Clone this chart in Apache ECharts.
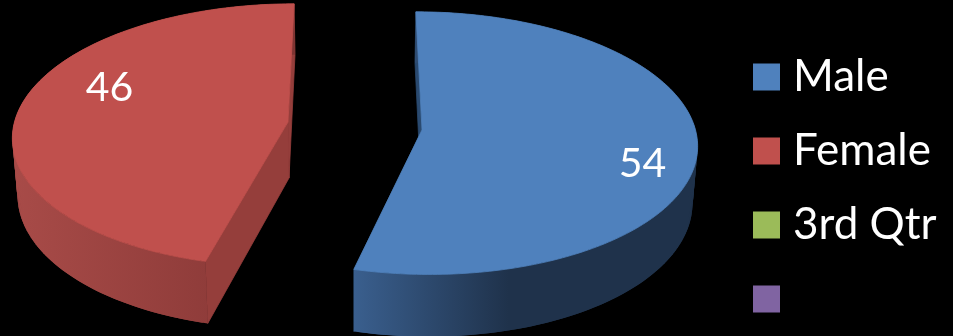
<!DOCTYPE html>
<html>
<head>
<meta charset="utf-8">
<style>html,body{margin:0;padding:0;background:#000}#chart{width:953px;height:336px}</style>
<script src="https://cdn.jsdelivr.net/npm/echarts@6/dist/echarts.min.js"></script>
</head>
<body>
<div id="chart"></div>
<script>
// Share of respondents by gender
const categories = ['Male', 'Female', '3rd Qtr', ' '];
const values = [54, 46, null, null];
const colors = ['#4f81bd', '#c0504d', '#9bbb59', '#8064a2'];

// Tilted-disc projection settings
const view = { cx: 355, radius: 273.5, tilt: 130, depth: 56, perspective: 0.1, floorScale: 0.985 };
// Per-slice look: exploded offset, wall shading, and where the value label sits
const sliceLooks = [
  { offset: 67, apexY: 130, cut: '#2a4a70', wall: [[0, '#3a5f8e'], [0.45, '#1f324b'], [1, '#1f324b']], labelAngle: 108, labelRadius: 0.82 },
  { offset: -67, apexY: 122, cut: '#953e3b', wall: [[0, '#a84b48'], [0.85, '#8a3937'], [1, '#7d3432']], labelAngle: 292, labelRadius: 0.73 }
];

const total = values.reduce((a, b) => a + (b || 0), 0);
const toRad = Math.PI / 180;

// Angles run clockwise from the back of the disc; v grows toward the viewer.
function project(look, deg, r, lower) {
  const u = r * Math.sin(deg * toRad);
  const v = -r * Math.cos(deg * toRad);
  const s = 1 / (1 - view.perspective * v);
  const wx = look.offset + view.radius * u;
  return [
    view.cx + wx * s * (lower ? view.floorScale : 1),
    look.apexY + view.tilt * v * s + (lower ? view.depth * s : 0)
  ];
}

function arc(look, from, to, lower) {
  const pts = [];
  const n = Math.ceil(Math.abs(to - from));
  for (let i = 0; i <= n; i++) pts.push(project(look, from + (to - from) * i / n, 1, lower));
  return pts;
}

// Stroked in its own fill so neighbouring faces close up without a dark seam.
function poly(points, fill, seam) {
  return {
    type: 'polygon', shape: { points }, silent: true,
    style: { fill, stroke: seam ? fill : null, lineWidth: seam ? 0.8 : 0 }
  };
}

function sliceRenderer(index) {
  const before = values.slice(0, index).reduce((a, b) => a + (b || 0), 0);
  const from = before / total * 360;
  const to = (before + values[index]) / total * 360;
  const look = sliceLooks[index];
  return function () {
    const apex = project(look, 0, 0, false);
    const apexLow = project(look, 0, 0, true);
    const topArc = arc(look, from, to, false);
    const lowArc = arc(look, from, to, true);
    const xs = topArc.map(p => p[0]);
    const minX = Math.min.apply(null, xs), maxX = Math.max.apply(null, xs);
    const wallFill = new echarts.graphic.LinearGradient(minX, 0, maxX, 0,
      look.wall.map(s => ({ offset: s[0], color: s[1] })), true);
    const startTop = topArc[0], startLow = lowArc[0];
    const endTop = topArc[topArc.length - 1], endLow = lowArc[lowArc.length - 1];
    const label = project(look, look.labelAngle, look.labelRadius, false);
    const children = [
      poly([apex, startTop, startLow, apexLow], look.cut, true),
      poly([apex, endTop, endLow, apexLow], look.cut, true)
    ];
    // The outer wall is built strip by strip so its silhouette follows both rims.
    for (let i = 0; i + 2 < topArc.length; i++) {
      children.push(poly([topArc[i], topArc[i + 2], lowArc[i + 2], lowArc[i]], wallFill));
    }
    children.push(poly([apex].concat(topArc), colors[index], true));
    children.push({
      type: 'text', silent: true,
      style: {
        x: label[0], y: label[1], text: String(values[index]),
        fill: '#fff', font: '41px Lato', align: 'center', verticalAlign: 'middle'
      }
    });
    return { type: 'group', children };
  };
}

const chart = echarts.init(document.getElementById('chart'), null, { renderer: 'canvas' });
chart.setOption({
  backgroundColor: '#000',
  animation: false,
  legend: {
    orient: 'vertical', left: 753, top: 55, padding: 0,
    itemWidth: 27, itemHeight: 27, itemGap: 30, icon: 'rect',
    selectedMode: false,
    data: categories.map((name, i) => ({ name, itemStyle: { color: colors[i] } })),
    textStyle: { color: '#fff', fontFamily: 'Lato', fontSize: 44, lineHeight: 27, padding: [0, 0, 0, 8] }
  },
  series: categories.map((name, i) => ({
    type: 'custom',
    name,
    coordinateSystem: 'none',
    silent: true,
    itemStyle: { color: colors[i] },
    data: values[i] == null ? [] : [[values[i]]],
    renderItem: values[i] == null ? () => null : sliceRenderer(i)
  }))
});
</script>
</body>
</html>
